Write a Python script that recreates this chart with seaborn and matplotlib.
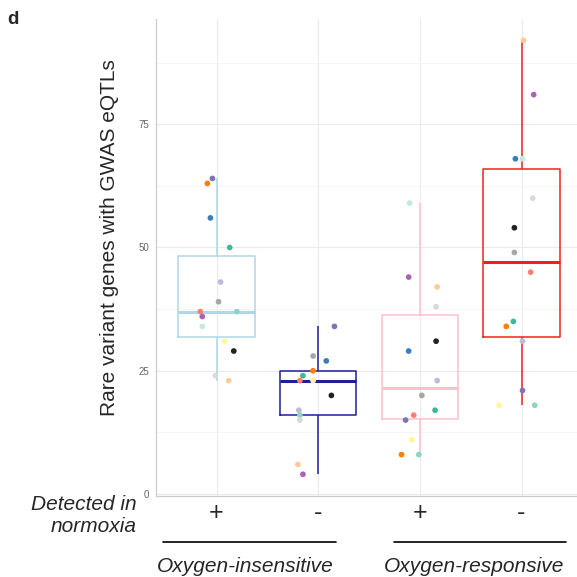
import matplotlib
matplotlib.use("Agg")
import matplotlib.pyplot as plt
import seaborn as sns
import pandas as pd
import numpy as np
from matplotlib.lines import Line2D

# ---------------- data ----------------
groups = ["ins_plus", "ins_minus", "resp_plus", "resp_minus"]
normoxia_labels = ["+", "-", "+", "-"]
oxygen_labels = ["Oxygen-insensitive", "Oxygen-responsive"]

g1_values = [64, 63, 56, 50, 43, 39, 37, 37, 36, 34, 31, 29, 24, 23]
g1_tissue = ["purple", "orange", "blue", "teal", "lavender", "gray", "salmon",
             "mint", "magenta", "palemint", "yellow", "black", "lightgray", "peach"]
g1_jitter = [-0.04, -0.09, -0.06, 0.13, 0.04, 0.02, -0.16, 0.20, -0.14, -0.14,
             0.08, 0.17, -0.01, 0.12]

g2_values = [34, 28, 27, 25, 24, 23, 23, 20, 17, 16, 15, 6, 4]
g2_tissue = ["purple", "gray", "blue", "orange", "teal", "salmon", "yellow",
             "black", "lavender", "mint", "lightgray", "peach", "magenta"]
g2_jitter = [0.16, -0.05, 0.08, -0.05, -0.15, -0.18, -0.05, 0.13, -0.19, -0.18,
             -0.18, -0.20, -0.15]

g3_values = [59, 44, 42, 38, 31, 29, 23, 20, 17, 16, 15, 11, 8, 8]
g3_tissue = ["palemint", "magenta", "peach", "lightgray", "black", "blue",
             "lavender", "gray", "teal", "salmon", "purple", "yellow", "orange", "mint"]
g3_jitter = [-0.10, -0.11, 0.17, 0.16, 0.16, -0.11, 0.17, 0.02, 0.15, -0.06,
             -0.14, -0.08, -0.18, -0.01]

g4_values = [92, 81, 68, 68, 60, 54, 49, 45, 35, 34, 31, 21, 18, 18]
g4_tissue = ["peach", "magenta", "blue", "palemint", "lightgray", "black", "gray",
             "salmon", "teal", "orange", "lavender", "purple", "yellow", "mint"]
g4_jitter = [0.02, 0.12, -0.06, 0.01, 0.11, -0.07, -0.07, 0.09, -0.08, -0.15,
             0.01, 0.01, -0.22, 0.13]

# ---------------- styles ----------------
tissue_colors = {
    "purple": "#7F72B5", "orange": "#FF7F00", "blue": "#3A7DBA", "teal": "#3DB89B",
    "lavender": "#BEBADA", "gray": "#A6A6A6", "salmon": "#FB8072", "mint": "#8DD3C7",
    "magenta": "#A866B2", "palemint": "#C5E8DD", "yellow": "#FFF79A", "black": "#222222",
    "lightgray": "#D9D9D9", "peach": "#FDCB9A",
}
box_colors = {"ins_plus": "#ADD8E6", "ins_minus": "#1F1F96",
              "resp_plus": "#FFC0CB", "resp_minus": "#F02020"}

rows = []
for g, vals, tis, jit in [(groups[0], g1_values, g1_tissue, g1_jitter),
                          (groups[1], g2_values, g2_tissue, g2_jitter),
                          (groups[2], g3_values, g3_tissue, g3_jitter),
                          (groups[3], g4_values, g4_tissue, g4_jitter)]:
    for v, t, j in zip(vals, tis, jit):
        rows.append({"group": g, "value": v, "tissue": t, "jit": j})
df = pd.DataFrame(rows)
df["xpos"] = df["group"].map({g: i for i, g in enumerate(groups)}) + df["jit"]

# ---------------- figure ----------------
W = H = 577
fig = plt.figure(figsize=(W / 100, H / 100), dpi=100)
sns.set_style("white")
plt.rcParams["font.family"] = ["Liberation Sans", "DejaVu Sans"]

left, right, top, bottom = 155.5, 582.5, 18.7, 496.0
ax = fig.add_axes([left / W, 1 - bottom / H, (right - left) / W, (bottom - top) / H])

sns.boxplot(data=df, x="group", y="value", hue="group", order=groups,
            hue_order=groups, palette=box_colors, fill=False, showfliers=False,
            showcaps=False, width=0.75, linewidth=1.1, dodge=False, legend=False,
            medianprops={"linewidth": 2.2}, ax=ax, zorder=2)

sns.scatterplot(data=df, x="xpos", y="value", hue="tissue", palette=tissue_colors,
                s=17, linewidth=0, legend=False, ax=ax, zorder=3)

ax.set_xlim(-0.6, 3.6)
ax.set_ylim(-0.4, 96.4)
ax.set_xticks(range(4))
ax.set_xticklabels([])
ax.set_yticks([0, 25, 50, 75])
ax.set_yticks([12.5, 37.5, 62.5, 87.5], minor=True)
ax.set_yticklabels(["0", "25", "50", "75"])
ax.tick_params(axis="y", which="major", length=3, width=0.8, color="#BBBBBB",
               labelsize=7, labelcolor="#666666", pad=1.5)
ax.tick_params(axis="y", which="minor", length=0)
ax.tick_params(axis="x", length=0)
ax.set_xlabel("")
ax.set_ylabel("")
ax.grid(True, which="major", color="#EBEBEB", linewidth=0.8)
ax.grid(True, which="minor", axis="y", color="#F2F2F2", linewidth=0.5)
ax.set_axisbelow(True)
for s in ["top", "right"]:
    ax.spines[s].set_visible(False)
for s in ["left", "bottom"]:
    ax.spines[s].set_color("#CCCCCC")
    ax.spines[s].set_linewidth(0.9)

# ---------------- annotations ----------------
def fx(px):
    return px / W

def fy(py):
    return 1 - py / H

fig.text(fx(7), fy(19), "d", fontsize=13.5, fontweight="bold", va="center", ha="left")
fig.text(fx(110), fy(238), "Rare variant genes with GWAS eQTLs", rotation=90,
         fontsize=15, va="center", ha="center")

fig.text(fx(137), fy(505), "Detected in", fontsize=15, style="italic",
         ha="right", va="center")
fig.text(fx(137), fy(527), "normoxia", fontsize=15, style="italic",
         ha="right", va="center")

for i, lab in enumerate(normoxia_labels):
    ax.annotate(lab, xy=(i, 0), xycoords=("data", "figure fraction"),
                xytext=(i, fy(513)), textcoords=("data", "figure fraction"),
                fontsize=18, ha="center", va="center", annotation_clip=False)

for (x0, x1) in [(163, 336), (394, 566)]:
    fig.add_artist(Line2D([fx(x0), fx(x1)], [fy(542), fy(542)], color="black",
                          linewidth=1.2))

fig.text(fx(245), fy(566), oxygen_labels[0], fontsize=15, style="italic",
         ha="center", va="center")
fig.text(fx(474), fy(566), oxygen_labels[1], fontsize=15, style="italic",
         ha="center", va="center")

fig.savefig("out.png", dpi=100)
